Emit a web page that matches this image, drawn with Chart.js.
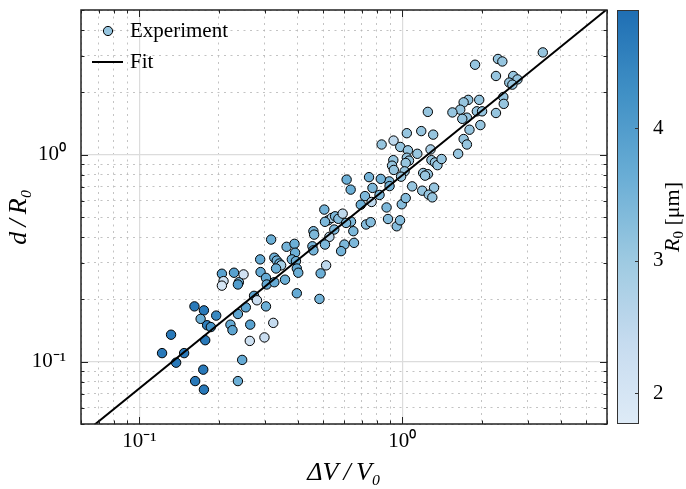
<!DOCTYPE html>
<html>
<head>
<meta charset="utf-8">
<script src="https://cdn.jsdelivr.net/npm/chart.js@4"></script>
<style>
html, body { margin: 0; padding: 0; background: #fff; }
#wrap { position: relative; width: 686px; height: 489px; }
#main { position: absolute; left: 0; top: 0; }
#cbar { position: absolute; left: 607px; top: 0; }
</style>
</head>
<body>
<div id="wrap">
  <canvas id="main" width="686" height="489"></canvas>
  <canvas id="cbar" width="79" height="489"></canvas>
</div>
<script>
// measured points: dV/V0, d/R0 and R0 [um]
var expX = [
  3.42, 2.31, 2.40, 1.89, 2.27, 2.64, 2.74, 2.55, 2.62, 2.42,
  2.43, 2.27, 1.96, 1.78, 1.71, 1.66, 1.55, 1.25, 1.92, 2.01,
  1.76, 1.69, 1.98, 1.80, 1.71, 1.76, 1.63, 1.04, 1.18, 1.31,
  0.834, 0.926, 0.982, 1.05, 1.14, 1.28, 0.924, 0.914, 0.928, 1.04,
  1.06, 1.03, 1.02, 0.989, 1.29, 1.33, 1.36, 1.41, 1.20, 1.25,
  1.22, 1.09, 1.32, 1.19, 1.26, 1.30, 0.892, 0.828, 0.747, 0.770,
  0.894, 0.819, 0.721, 0.764, 0.695, 0.871, 0.995, 1.03, 0.614, 0.636,
  0.638, 0.728, 0.758, 0.651, 0.655, 0.882, 0.952, 0.980, 0.505, 0.523,
  0.539, 0.508, 0.555, 0.571, 0.593, 0.611, 0.551, 0.528, 0.459, 0.462,
  0.455, 0.459, 0.508, 0.602, 0.585, 0.317, 0.288, 0.326, 0.333, 0.341,
  0.346, 0.331, 0.363, 0.389, 0.391, 0.380, 0.394, 0.397, 0.402, 0.289,
  0.303, 0.305, 0.326, 0.358, 0.489, 0.513, 0.397, 0.484, 0.206, 0.209,
  0.206, 0.229, 0.239, 0.237, 0.249, 0.273, 0.280, 0.303, 0.254, 0.237,
  0.222, 0.226, 0.264, 0.263, 0.299, 0.323, 0.246, 0.237, 0.162, 0.176,
  0.171, 0.196, 0.181, 0.187, 0.178, 0.132, 0.122, 0.148, 0.138, 0.175,
  0.163, 0.176
];
var expY = [
  3.12, 2.90, 2.82, 2.72, 2.40, 2.40, 2.31, 2.23, 2.18, 1.90,
  1.76, 1.59, 1.84, 1.84, 1.79, 1.65, 1.60, 1.61, 1.62, 1.62,
  1.51, 1.49, 1.39, 1.32, 1.19, 1.12, 1.01, 1.27, 1.30, 1.25,
  1.12, 1.17, 1.09, 1.05, 1.01, 1.06, 0.941, 0.885, 0.844, 0.967,
  0.936, 0.912, 0.831, 0.783, 0.941, 0.917, 0.890, 0.953, 0.816, 0.805,
  0.792, 0.703, 0.693, 0.670, 0.641, 0.622, 0.743, 0.764, 0.779, 0.691,
  0.705, 0.639, 0.631, 0.591, 0.573, 0.556, 0.576, 0.617, 0.758, 0.678,
  0.475, 0.460, 0.472, 0.427, 0.375, 0.489, 0.451, 0.482, 0.543, 0.482,
  0.495, 0.474, 0.504, 0.490, 0.519, 0.468, 0.435, 0.401, 0.427, 0.411,
  0.361, 0.345, 0.368, 0.368, 0.342, 0.389, 0.312, 0.318, 0.308, 0.298,
  0.292, 0.282, 0.359, 0.371, 0.336, 0.312, 0.306, 0.282, 0.269, 0.271,
  0.254, 0.236, 0.242, 0.249, 0.267, 0.292, 0.214, 0.201, 0.266, 0.245,
  0.233, 0.269, 0.242, 0.236, 0.264, 0.208, 0.198, 0.185, 0.183, 0.170,
  0.151, 0.142, 0.151, 0.126, 0.131, 0.154, 0.102, 0.0806, 0.185, 0.177,
  0.161, 0.167, 0.150, 0.147, 0.127, 0.135, 0.110, 0.110, 0.0989, 0.0915,
  0.0806, 0.0733
];
var expR0 = [
  3.1, 3.1, 3.1, 3.1, 3.1, 3.1, 3.1, 3.1, 3.1, 3.1,
  3.1, 3.1, 3.1, 3.1, 3.1, 3.1, 3.1, 3.1, 3.1, 3.1,
  3.1, 3.1, 3.1, 3.1, 3.1, 3.1, 3.1, 3.1, 3.1, 3.1,
  3.1, 2.5, 3.1, 3.1, 3.1, 2.8, 3.1, 3.1, 3.1, 3.1,
  3.1, 3.1, 3.1, 3.1, 3.1, 3.1, 3.1, 3.1, 3.1, 3.1,
  3.1, 3.1, 3.1, 3.1, 3.1, 3.1, 3.4, 3.5, 3.5, 3.4,
  3.5, 3.4, 3.4, 2.5, 3.6, 3.4, 3.3, 3.3, 3.6, 3.6,
  3.4, 3.3, 3.3, 3.4, 3.4, 3.3, 3.3, 3.3, 3.5, 3.4,
  2.7, 3.4, 3.4, 3.3, 2.5, 3.4, 3.4, 2.6, 3.4, 3.4,
  3.5, 3.5, 3.4, 3.4, 3.5, 3.6, 3.7, 3.6, 3.6, 3.6,
  2.9, 3.6, 3.5, 3.6, 3.6, 3.6, 3.6, 3.7, 3.6, 3.7,
  3.7, 3.7, 3.7, 3.6, 3.6, 2.5, 3.7, 3.5, 3.9, 2.2,
  2.0, 3.9, 3.5, 4.0, 2.1, 3.9, 2.3, 3.6, 3.8, 3.8,
  3.7, 3.8, 3.9, 2.2, 2.3, 2.4, 3.7, 3.6, 4.7, 4.7,
  3.6, 4.4, 4.6, 4.2, 4.7, 4.7, 4.7, 4.7, 4.7, 4.7,
  4.7, 4.7
];

// power-law fit, end points
var fitX = [0.06, 6];
var fitY = [0.0439, 5.04];

var xRange = [0.06, 6];
var yRange = [0.05, 5];
var cbRange = [1.77, 4.89];
var cbTicks = [2, 3, 4];

var FONT = "'Liberation Serif', 'Times New Roman', serif";
Chart.defaults.font.family = FONT;
Chart.defaults.color = '#000';

// Blues colour map, used between 0.125 and 0.76 of its range
var blues = [[247,251,255],[222,235,247],[198,219,239],[158,202,225],[107,174,214],
             [66,146,198],[33,113,181],[8,81,156],[8,48,107]];
function cmap(v) {
  var t = (v - cbRange[0]) / (cbRange[1] - cbRange[0]);
  t = Math.max(0, Math.min(1, t));
  var f = (0.125 + 0.635 * t) * 8;
  var i = Math.min(7, Math.floor(f)), u = f - i;
  var a = blues[i], b = blues[i + 1];
  return 'rgb(' + [0, 1, 2].map(function (k) { return Math.round(a[k] + (b[k] - a[k]) * u); }).join(',') + ')';
}

function isDecade(v) {
  var l = Math.log10(v);
  return Math.abs(l - Math.round(l)) < 1e-6;
}
var SUP = {'-': '\u207B', '0': '\u2070', '1': '\u00B9', '2': '\u00B2', '3': '\u00B3'};
function decadeLabel(v) {
  if (!isDecade(v)) return '';
  var e = String(Math.round(Math.log10(v)));
  return '10' + e.split('').map(function (c) { return SUP[c] || c; }).join('');
}
// 1..9 x 10^n inside the axis range (no 1.5 steps)
function logTicks(min, max) {
  var out = [];
  for (var e = -3; e <= 2; e++) {
    for (var m = 1; m <= 9; m++) {
      var v = +(m * Math.pow(10, e)).toPrecision(3);
      if (v >= min * 0.999 && v <= max * 1.001) out.push({ value: v });
    }
  }
  return out;
}

var gridOpts = {
  color: function (c) { return c.tick && isDecade(c.tick.value) ? '#dcdcdc' : '#b4b4b4'; },
  lineWidth: function (c) { return c.tick && isDecade(c.tick.value) ? 1.2 : 0.8; },
  drawTicks: false
};
var borderOpts = {
  display: false,
  dash: function (c) { return (c.tick && !isDecade(c.tick.value)) ? [2, 4.5] : []; }
};

var framePlugin = {
  id: 'frame',
  afterDatasetsDraw: function (chart) {
    var ctx = chart.ctx, a = chart.chartArea, xs = chart.scales.x, ys = chart.scales.y;
    ctx.save();
    ctx.strokeStyle = '#222';
    ctx.lineWidth = 1;
    function seg(x1, y1, x2, y2) { ctx.beginPath(); ctx.moveTo(x1, y1); ctx.lineTo(x2, y2); ctx.stroke(); }
    xs.ticks.forEach(function (t) {
      var px = Math.round(xs.getPixelForValue(t.value)) + 0.5;
      var len = isDecade(t.value) ? 7 : 3.5;
      seg(px, a.bottom, px, a.bottom - len);
      seg(px, a.top, px, a.top + len);
    });
    ys.ticks.forEach(function (t) {
      var py = Math.round(ys.getPixelForValue(t.value)) + 0.5;
      var len = isDecade(t.value) ? 7 : 3.5;
      seg(a.left, py, a.left + len, py);
      seg(a.right, py, a.right - len, py);
    });
    ctx.lineWidth = 1.5;
    ctx.strokeRect(a.left, a.top, a.right - a.left, a.bottom - a.top);

    // legend, upper left inside the axes
    var lx = a.left + 27, ly1 = a.top + 21, ly2 = a.top + 52;
    ctx.beginPath();
    ctx.arc(lx, ly1, 4.6, 0, Math.PI * 2);
    ctx.fillStyle = cmap(3.1);
    ctx.fill();
    ctx.lineWidth = 1;
    ctx.strokeStyle = '#000';
    ctx.stroke();
    ctx.lineWidth = 2;
    seg(lx - 16, ly2, lx + 15, ly2);
    ctx.fillStyle = '#000';
    ctx.font = '21px ' + FONT;
    ctx.textAlign = 'left';
    ctx.textBaseline = 'middle';
    ctx.fillText('Experiment', lx + 22, ly1);
    ctx.fillText('Fit', lx + 22, ly2);
    ctx.restore();
  }
};

new Chart(document.getElementById('main'), {
  type: 'scatter',
  data: {
    datasets: [
      {
        label: 'Fit',
        data: fitX.map(function (x, i) { return { x: x, y: fitY[i] }; }),
        showLine: true,
        borderColor: '#000',
        borderWidth: 2,
        pointRadius: 0,
        clip: 0,
        order: 0
      },
      {
        label: 'Experiment',
        data: expX.map(function (x, i) { return { x: x, y: expY[i] }; }),
        backgroundColor: expR0.map(cmap),
        borderColor: '#000',
        borderWidth: 1,
        pointRadius: 4.7,
        order: 1
      }
    ]
  },
  options: {
    responsive: false,
    animation: false,
    events: [],
    layout: { padding: { top: 10, right: 79, bottom: 0, left: 0 } },
    plugins: { legend: { display: false }, tooltip: { enabled: false } },
    scales: {
      x: {
        type: 'logarithmic',
        min: xRange[0], max: xRange[1],
        afterBuildTicks: function (s) { s.ticks = logTicks(s.min, s.max); },
        afterFit: function (s) { s.height = 65; s.paddingLeft = 0; s.paddingRight = 0; },
        ticks: { autoSkip: false, maxRotation: 0, minRotation: 0, padding: 5,
                 font: { size: 21 }, callback: decadeLabel },
        grid: gridOpts,
        border: borderOpts,
        title: { display: true, text: '\u0394V\u2009/\u2009V\u2080', font: { size: 26, style: 'italic' },
                 padding: { top: 0, bottom: 0 } }
      },
      y: {
        type: 'logarithmic',
        min: yRange[0], max: yRange[1],
        afterBuildTicks: function (s) { s.ticks = logTicks(s.min, s.max); },
        afterFit: function (s) { s.width = 81; s.paddingTop = 0; s.paddingBottom = 0; },
        ticks: { autoSkip: false, padding: 15, font: { size: 21 }, callback: decadeLabel },
        grid: gridOpts,
        border: borderOpts,
        title: { display: true, text: 'd\u2009/\u2009R\u2080', font: { size: 26, style: 'italic' },
                 padding: { top: 4, bottom: 0 } }
      }
    }
  },
  plugins: [framePlugin]
});

// colour bar
var cbPlugin = {
  id: 'cbframe',
  afterDraw: function (chart) {
    var ctx = chart.ctx, a = chart.chartArea, ys = chart.scales.y;
    ctx.save();
    ctx.strokeStyle = '#333';
    ctx.lineWidth = 1;
    ctx.strokeRect(a.left + 0.5, a.top + 0.5, a.right - a.left - 1, a.bottom - a.top - 1);
    cbTicks.forEach(function (v) {
      var py = Math.round(ys.getPixelForValue(v)) + 0.5;
      ctx.beginPath(); ctx.moveTo(a.right, py); ctx.lineTo(a.right - 4, py); ctx.stroke();
    });
    // rotated label R0 [um]
    var big = '22px ' + FONT, itb = 'italic 22px ' + FONT, small = '15px ' + FONT;
    ctx.font = itb; var w1 = ctx.measureText('R').width;
    ctx.font = small; var w2 = ctx.measureText('0').width;
    ctx.font = big; var w3 = ctx.measureText(' [\u03BCm]').width;
    var tot = w1 + w2 + w3;
    ctx.translate(64, (a.top + a.bottom) / 2);
    ctx.rotate(-Math.PI / 2);
    ctx.fillStyle = '#000';
    ctx.textBaseline = 'alphabetic';
    ctx.textAlign = 'left';
    var x0 = -tot / 2;
    ctx.font = itb; ctx.fillText('R', x0, 8);
    ctx.font = small; ctx.fillText('0', x0 + w1, 12);
    ctx.font = big; ctx.fillText(' [\u03BCm]', x0 + w1 + w2, 8);
    ctx.restore();
  }
};

new Chart(document.getElementById('cbar'), {
  type: 'bar',
  data: {
    labels: [''],
    datasets: [{
      data: [cbRange],
      backgroundColor: function (c) {
        var a = c.chart.chartArea;
        if (!a) return cmap(3);
        var g = c.chart.ctx.createLinearGradient(0, a.bottom, 0, a.top);
        for (var i = 0; i <= 20; i++) {
          g.addColorStop(i / 20, cmap(cbRange[0] + (cbRange[1] - cbRange[0]) * i / 20));
        }
        return g;
      },
      borderWidth: 0,
      barPercentage: 1,
      categoryPercentage: 1
    }]
  },
  options: {
    responsive: false,
    animation: false,
    events: [],
    layout: { padding: { top: 10, right: 0, bottom: 65, left: 10 } },
    plugins: { legend: { display: false }, tooltip: { enabled: false } },
    scales: {
      x: { display: false },
      y: {
        position: 'right',
        min: cbRange[0], max: cbRange[1],
        afterBuildTicks: function (s) { s.ticks = cbTicks.map(function (v) { return { value: v }; }); },
        afterFit: function (s) { s.width = 47; s.paddingTop = 0; s.paddingBottom = 0; },
        ticks: { padding: 6, font: { size: 21 }, callback: function (v) { return String(v); } },
        grid: { display: false },
        border: { display: false }
      }
    }
  },
  plugins: [cbPlugin]
});
</script>
</body>
</html>
